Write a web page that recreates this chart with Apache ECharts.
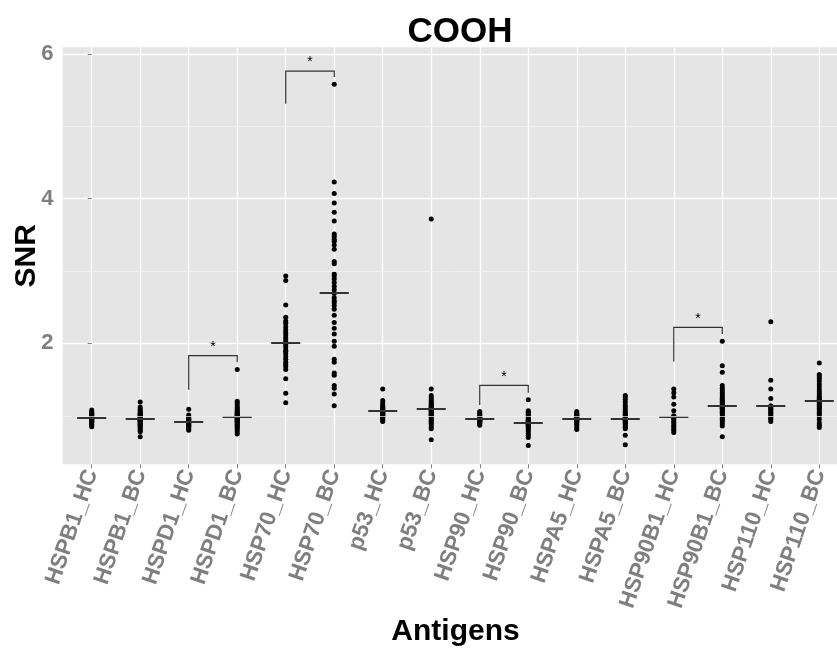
<!DOCTYPE html>
<html>
<head>
<meta charset="utf-8">
<script src="https://cdn.jsdelivr.net/npm/echarts@6/dist/echarts.min.js"></script>
<style>
  html, body { margin: 0; padding: 0; background: #fff; }
  #chart { width: 837px; height: 648px; }
</style>
</head>
<body>
<div id="chart"></div>
<script>
const categories = ['HSPB1_HC', 'HSPB1_BC', 'HSPD1_HC', 'HSPD1_BC', 'HSP70_HC', 'HSP70_BC',
    'p53_HC', 'p53_BC', 'HSP90_HC', 'HSP90_BC', 'HSPA5_HC', 'HSPA5_BC',
    'HSP90B1_HC', 'HSP90B1_BC', 'HSP110_HC', 'HSP110_BC'];

// SNR values per antigen group
const hspb1Hc = [0.85, 0.87, 0.88, 0.9, 0.91, 0.92, 0.93, 0.94, 0.95, 0.96, 0.96, 0.97, 0.97, 0.98, 0.99, 1.0, 1.01, 1.02, 1.03, 1.04, 1.06, 1.08];
const hspb1Bc = [0.71, 0.78, 0.8, 0.82, 0.84, 0.86, 0.87, 0.88, 0.89, 0.9, 0.91, 0.92, 0.93, 0.93, 0.94, 0.95, 0.95, 0.96, 0.97, 0.98, 0.99, 1.0, 1.01, 1.02, 1.03, 1.05, 1.07, 1.09, 1.12, 1.19];
const hspd1Hc = [0.8, 0.82, 0.84, 0.85, 0.86, 0.87, 0.88, 0.89, 0.9, 0.91, 0.91, 0.92, 0.93, 0.94, 0.95, 0.96, 0.97, 0.99, 1.01, 1.09];
const hspd1Bc = [0.75, 0.78, 0.81, 0.83, 0.85, 0.87, 0.88, 0.9, 0.91, 0.92, 0.93, 0.94, 0.95, 0.96, 0.97, 0.98, 0.98, 0.99, 1.0, 1.01, 1.02, 1.03, 1.05, 1.06, 1.08, 1.1, 1.12, 1.15, 1.18, 1.2, 1.64];
const hsp70Hc = [2.93, 2.87, 2.53, 2.36, 2.31, 2.28, 2.23, 2.19, 2.15, 2.12, 2.08, 2.05, 2.02, 1.98, 1.95, 1.91, 1.89, 1.86, 1.82, 1.78, 1.74, 1.71, 1.68, 1.64, 1.51, 1.31, 1.18];
const hsp70Bc = [5.58, 4.23, 4.07, 3.94, 3.81, 3.69, 3.51, 3.48, 3.44, 3.41, 3.36, 3.30, 3.13, 3.10, 2.96, 2.93, 2.89, 2.84, 2.79, 2.74, 2.69, 2.63, 2.59, 2.56, 2.52, 2.47, 2.39, 2.29, 2.21, 2.13, 2.03, 1.96, 1.78, 1.74, 1.59, 1.56, 1.42, 1.38, 1.30, 1.14];
const p53Hc = [0.92, 0.94, 0.96, 0.98, 0.99, 1.0, 1.01, 1.02, 1.03, 1.04, 1.05, 1.06, 1.06, 1.07, 1.08, 1.09, 1.1, 1.11, 1.13, 1.15, 1.18, 1.21, 1.37];
const p53Bc = [0.67, 0.82, 0.85, 0.88, 0.9, 0.92, 0.94, 0.96, 0.98, 1.0, 1.01, 1.02, 1.03, 1.05, 1.06, 1.07, 1.08, 1.09, 1.09, 1.1, 1.11, 1.12, 1.13, 1.15, 1.16, 1.18, 1.2, 1.22, 1.25, 1.28, 1.37, 3.72];
const hsp90Hc = [0.87, 0.89, 0.9, 0.91, 0.92, 0.93, 0.94, 0.94, 0.95, 0.95, 0.96, 0.97, 0.98, 0.99, 1.0, 1.02, 1.04, 1.06];
const hsp90Bc = [0.59, 0.7, 0.73, 0.76, 0.79, 0.81, 0.83, 0.85, 0.86, 0.87, 0.88, 0.89, 0.9, 0.9, 0.91, 0.92, 0.93, 0.94, 0.95, 0.97, 0.99, 1.01, 1.03, 1.05, 1.07, 1.22];
const hspa5Hc = [0.81, 0.84, 0.87, 0.89, 0.91, 0.92, 0.93, 0.94, 0.95, 0.96, 0.96, 0.97, 0.98, 0.99, 1.0, 1.01, 1.02, 1.04, 1.06];
const hspa5Bc = [0.6, 0.73, 0.82, 0.84, 0.86, 0.88, 0.9, 0.91, 0.92, 0.93, 0.94, 0.95, 0.95, 0.96, 0.97, 0.98, 0.99, 1.0, 1.02, 1.04, 1.06, 1.09, 1.12, 1.15, 1.19, 1.23, 1.26, 1.28];
const hsp90b1Hc = [0.77, 0.8, 0.82, 0.85, 0.87, 0.9, 0.92, 0.95, 0.97, 0.99, 1.0, 1.07, 1.16, 1.26, 1.32, 1.37];
const hsp90b1Bc = [0.71, 0.86, 0.89, 0.92, 0.95, 0.97, 0.99, 1.01, 1.03, 1.05, 1.06, 1.08, 1.09, 1.1, 1.11, 1.12, 1.13, 1.13, 1.14, 1.15, 1.17, 1.18, 1.2, 1.22, 1.24, 1.26, 1.29, 1.32, 1.35, 1.38, 1.42, 1.6, 1.69, 2.03];
const hsp110Hc = [0.92, 0.95, 0.97, 0.99, 1.01, 1.03, 1.05, 1.07, 1.09, 1.1, 1.12, 1.13, 1.14, 1.24, 1.37, 1.49, 2.3];
const hsp110Bc = [0.84, 0.87, 0.9, 0.95, 0.99, 1.02, 1.05, 1.08, 1.1, 1.12, 1.14, 1.16, 1.18, 1.2, 1.21, 1.23, 1.25, 1.27, 1.3, 1.33, 1.36, 1.4, 1.44, 1.48, 1.52, 1.55, 1.57, 1.73];

const medians = [0.97, 0.95, 0.91, 0.98, 2.0, 2.69, 1.06, 1.09, 0.95, 0.90, 0.96, 0.955, 0.99, 1.13, 1.14, 1.20];

// significance brackets
const bracketLeft = [2, 4, 8, 12];
const bracketRight = [3, 5, 9, 13];
const bracketTop = [1.83, 5.76, 1.42, 2.22];
const bracketLeftEnd = [1.36, 5.31, 1.15, 1.75];
const bracketRightEnd = [1.74, 5.68, 1.32, 2.13];
const bracketStar = [1.95, 5.88, 1.54, 2.34];

const yTicks = [2, 4, 6];
const yMinorTicks = [1, 3, 5];

const groups = [hspb1Hc, hspb1Bc, hspd1Hc, hspd1Bc, hsp70Hc, hsp70Bc, p53Hc, p53Bc,
    hsp90Hc, hsp90Bc, hspa5Hc, hspa5Bc, hsp90b1Hc, hsp90b1Bc, hsp110Hc, hsp110Bc];

var points = [];
groups.forEach(function (g, i) {
    g.forEach(function (v) { points.push([i, v]); });
});

var brackets = bracketLeft.map(function (l, i) {
    return [l, bracketRight[i], bracketTop[i], bracketLeftEnd[i], bracketRightEnd[i], bracketStar[i]];
});

var chart = echarts.init(document.getElementById('chart'));

// short horizontal bar at each group's median, snapped to whole pixels
function renderMedian(params, api) {
    var x = api.value(0), y = api.value(1);
    var a = api.coord([x - 0.3, y]);
    var b = api.coord([x + 0.3, y]);
    var py = Math.round(a[1]);
    return {
        type: 'line',
        shape: { x1: a[0], y1: py, x2: b[0], y2: py },
        style: { stroke: '#333', lineWidth: 2 }
    };
}

function renderBracket(params, api) {
    var l = api.value(0), r = api.value(1), top = api.value(2);
    var p1 = api.coord([l, api.value(3)]);
    var p2 = api.coord([l, top]);
    var p3 = api.coord([r, top]);
    var p4 = api.coord([r, api.value(4)]);
    var s = api.coord([(l + r) / 2, api.value(5)]);
    return {
        type: 'group',
        children: [{
            type: 'polyline',
            shape: { points: [p1, p2, p3, p4] },
            style: { stroke: '#333', lineWidth: 1.2, fill: null }
        }, {
            type: 'text',
            x: s[0], y: s[1],
            style: { text: '*', fill: '#000', font: '14px "Liberation Sans", Arial, sans-serif', align: 'center', verticalAlign: 'middle' }
        }]
    };
}

var option = {
    animation: false,
    title: {
        text: 'COOH',
        left: 455,
        top: 10,
        textAlign: 'center',
        textStyle: { fontFamily: 'Liberation Sans', fontWeight: 'bold', fontSize: 35, color: '#000' }
    },
    grid: {
        left: 62.6, top: 47.3, bottom: 183.7, right: -11.4,
        outerBoundsMode: 'none',
        containLabel: false,
        show: true, backgroundColor: '#E5E5E5', borderWidth: 0
    },
    xAxis: {
        type: 'value',
        min: -0.6,
        max: 15.6,
        name: 'Antigens',
        nameLocation: 'middle',
        nameGap: 152,
        nameMoveOverlap: false,
        nameTextStyle: { fontFamily: 'Liberation Sans', fontWeight: 'bold', fontSize: 30, color: '#000' },
        axisLine: { show: false },
        axisTick: { show: true, length: 4, customValues: categories.map(function (c, i) { return i; }), lineStyle: { color: '#7f7f7f' } },
        axisLabel: {
            customValues: categories.map(function (c, i) { return i; }),
            formatter: function (v) { return categories[Math.round(v)]; },
            rotate: 71,
            margin: 6,
            padding: [16, 0, 0, 0],
            fontFamily: 'Liberation Sans', fontWeight: 'bold', fontSize: 22.5, color: '#7f7f7f'
        },
        splitLine: { show: true, lineStyle: { color: '#fff', width: 1.3 } }
    },
    yAxis: {
        type: 'value',
        min: 0.33,
        max: 6.09,
        name: 'SNR',
        nameLocation: 'middle',
        nameGap: 21,
        nameMoveOverlap: false,
        nameTextStyle: { fontFamily: 'Liberation Sans', fontWeight: 'bold', fontSize: 30, color: '#000' },
        axisLine: { show: false },
        axisTick: { show: true, length: 4, customValues: yTicks, lineStyle: { color: '#7f7f7f' } },
        axisLabel: {
            customValues: yTicks,
            margin: 9,
            fontFamily: 'Liberation Sans', fontWeight: 'bold', fontSize: 22, color: '#7f7f7f'
        },
        splitLine: { show: true, lineStyle: { color: '#fff', width: 1.3 } }
    },
    series: [{
        type: 'scatter',
        data: [],
        silent: true,
        z: 1,
        markLine: {
            silent: true,
            symbol: 'none',
            label: { show: false },
            lineStyle: { color: '#F2F2F2', width: 0.7, type: 'solid' },
            data: yMinorTicks.map(function (v) { return { yAxis: v }; })
        }
    }, {
        type: 'scatter',
        data: points,
        symbolSize: 5,
        silent: true,
        itemStyle: { color: '#000', opacity: 1 },
        z: 3
    }, {
        type: 'custom',
        data: medians.map(function (m, i) { return [i, m]; }),
        renderItem: renderMedian,
        encode: { x: 0, y: 1 },
        silent: true,
        z: 4
    }, {
        type: 'custom',
        data: brackets,
        renderItem: renderBracket,
        encode: { x: [0, 1], y: [2, 3, 4] },
        silent: true,
        z: 4
    }]
};
chart.setOption(option);
</script>
</body>
</html>
